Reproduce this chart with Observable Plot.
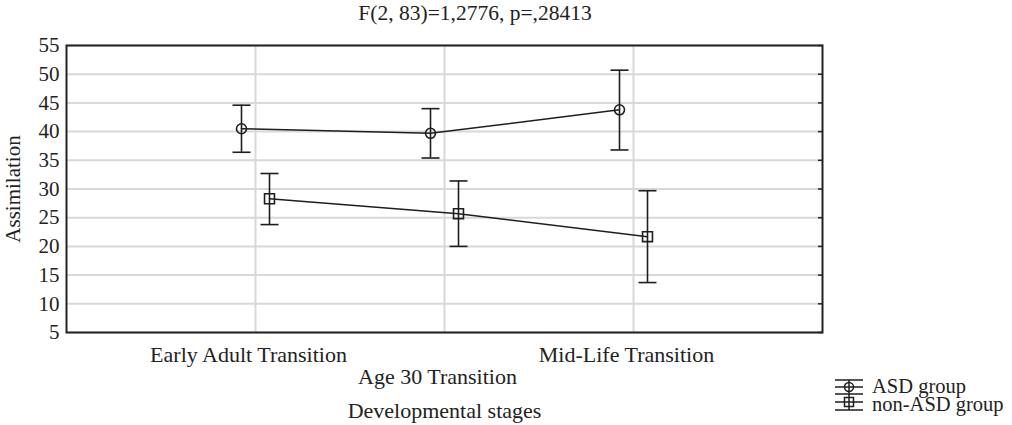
<!DOCTYPE html>
<html>
<head>
<meta charset="utf-8">
<script src="https://cdn.jsdelivr.net/npm/d3@7"></script>
<script src="https://cdn.jsdelivr.net/npm/@observablehq/plot@0.6"></script>
<style>
  html, body { margin: 0; padding: 0; background: #fff; }
  #wrap { position: relative; width: 1012px; height: 425px; font-family: "Liberation Serif", "Times New Roman", serif; color: #222; }
  #title { position: absolute; top: 0px; left: 475px; transform: translateX(-50%); font-size: 21.5px; line-height: 26px; white-space: nowrap; }
  #chart { position: absolute; left: 0; top: 0; }
  #legend { position: absolute; left: 0; top: 0; width: 1012px; height: 425px; pointer-events: none; }
  #legend svg { position: absolute; left: 835px; top: 378px; overflow: visible; }
  #legend span { position: absolute; left: 872px; font-size: 20.5px; line-height: 18px; white-space: nowrap; }
</style>
</head>
<body>
<div id="wrap">
  <div id="chart"></div>
  <div id="title"></div>
  <div id="legend"></div>
</div>
<script>
const titleText = "F(2, 83)=1,2776, p=,28413";
const stages = ["Early Adult Transition", "Age 30 Transition", "Mid-Life Transition"];
const groups = ["ASD group", "non-ASD group"];
const asdMean = [40.5, 39.7, 43.8];
const asdLow  = [36.4, 35.4, 36.8];
const asdHigh = [44.6, 44.0, 50.7];
const nonMean = [28.3, 25.7, 21.7];
const nonLow  = [23.8, 20.0, 13.7];
const nonHigh = [32.7, 31.4, 29.7];
const yTicks = [5, 10, 15, 20, 25, 30, 35, 40, 45, 50, 55];
const yLabel = "Assimilation";
const xLabel = "Developmental stages";

const series = [
  {name: groups[0], mean: asdMean, low: asdLow, high: asdHigh, symbol: "circle", r: 5, dx: -14},
  {name: groups[1], mean: nonMean, low: nonLow, high: nonHigh, symbol: "square", r: 5.6, dx: 14}
];

const ink = "#1e1e1e";
const cap = {
  draw(context, size) {
    const r = Math.sqrt(size / Math.PI);
    context.moveTo(-r, 0);
    context.lineTo(r, 0);
  }
};

const marks = [
  Plot.gridY(yTicks, {stroke: "#d8d8d8", strokeOpacity: 1, strokeWidth: 2}),
  Plot.gridX(stages, {stroke: "#d8d8d8", strokeOpacity: 1, strokeWidth: 2}),
  Plot.axisY({ticks: yTicks, tickSize: 0, tickPadding: 7, label: yLabel, labelAnchor: "center", labelArrow: "none", labelOffset: 61, fontSize: 21}),
  Plot.axisY({anchor: "right", ticks: yTicks, tickSize: -5, tickFormat: () => "", label: null, strokeWidth: 1.5}),
  Plot.axisX({ticks: [stages[0], stages[2]], tickSize: 0, tickPadding: 14, dx: -7, label: xLabel, labelAnchor: "center", labelArrow: "none", labelOffset: 85, fontSize: 22}),
  Plot.axisX({ticks: [stages[1]], tickSize: 0, tickPadding: 36, dx: -7, label: null, fontSize: 22})
];

for (const s of series) {
  const rows = stages.map((st, i) => ({stage: st, mean: s.mean[i], low: s.low[i], high: s.high[i]}));
  marks.push(
    Plot.ruleX(rows, {x: "stage", y1: "low", y2: "high", dx: s.dx, stroke: ink, strokeWidth: 1.6}),
    Plot.dot(rows, {x: "stage", y: "low", dx: s.dx, symbol: cap, r: 9, stroke: ink, strokeWidth: 1.6}),
    Plot.dot(rows, {x: "stage", y: "high", dx: s.dx, symbol: cap, r: 9, stroke: ink, strokeWidth: 1.6}),
    Plot.line(rows, {x: "stage", y: "mean", dx: s.dx, stroke: ink, strokeWidth: 1.5}),
    Plot.dot(rows, {x: "stage", y: "mean", dx: s.dx, symbol: s.symbol, r: s.r, stroke: ink, strokeWidth: 1.6, fill: "none"})
  );
}
marks.push(Plot.frame({stroke: "#222", strokeWidth: 2}));

const chart = Plot.plot({
  width: 1012,
  height: 425,
  marginTop: 45,
  marginBottom: 93,
  marginLeft: 66,
  marginRight: 190,
  style: {fontFamily: "'Liberation Serif', 'Times New Roman', serif", fontSize: "22px", color: "#222", background: "#fff"},
  x: {type: "point", domain: stages, padding: 1},
  y: {domain: [5, 55]},
  marks
});
document.getElementById("chart").appendChild(chart);
document.getElementById("title").textContent = titleText;

// legend: one glyph column for both groups, labels beside it
const legend = document.getElementById("legend");
legend.innerHTML = `<svg width="28" height="34" viewBox="0 0 28 34">
  <line x1="0" x2="28" y1="2" y2="2" stroke="${ink}" stroke-width="1.5"/>
  <line x1="0" x2="28" y1="9" y2="9" stroke="${ink}" stroke-width="1.5"/>
  <line x1="0" x2="28" y1="16" y2="16" stroke="${ink}" stroke-width="1.5"/>
  <line x1="0" x2="28" y1="24" y2="24" stroke="${ink}" stroke-width="1.5"/>
  <line x1="0" x2="28" y1="32" y2="32" stroke="${ink}" stroke-width="1.5"/>
  <line x1="14" x2="14" y1="2" y2="16" stroke="${ink}" stroke-width="1.5"/>
  <line x1="14" x2="14" y1="16" y2="32" stroke="${ink}" stroke-width="1.5"/>
  <circle cx="14" cy="9" r="4.5" fill="none" stroke="${ink}" stroke-width="1.5"/>
  <rect x="9.5" y="19.5" width="9" height="9" fill="none" stroke="${ink}" stroke-width="1.5"/>
</svg>`;
series.forEach((s, i) => {
  const span = document.createElement("span");
  span.textContent = s.name;
  span.style.top = (377 + i * 18) + "px";
  legend.appendChild(span);
});
</script>
</body>
</html>
